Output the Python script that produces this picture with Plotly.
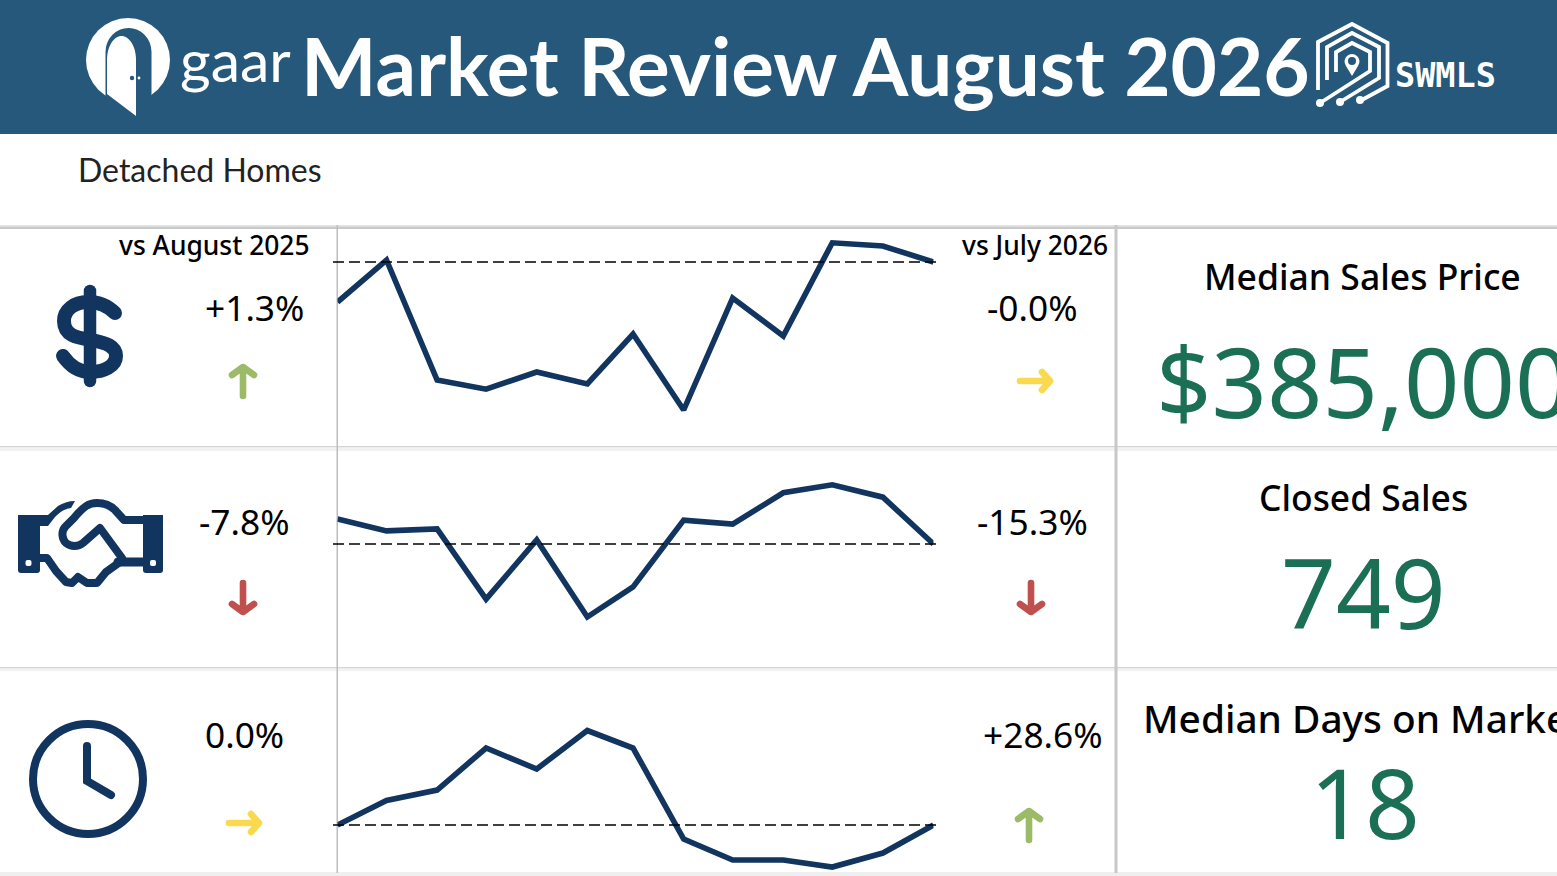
import base64
import plotly.graph_objects as go

W, H = 1557, 876

# ---- data ----
months = ["2025-08-31", "2025-09-30", "2025-10-31", "2025-11-30", "2025-12-31", "2026-01-31",
          "2026-02-28", "2026-03-31", "2026-04-30", "2026-05-31", "2026-06-30", "2026-07-31", "2026-08-31"]
median_price = [380000, 385250, 370250, 369100, 371250, 369750, 376000, 366500, 380500, 375750, 387400, 387000, 385000]
closed_sales = [812, 782, 787, 610, 759, 565, 641, 809, 799, 878, 898, 867, 749]
median_days = [18, 21.5, 23, 29, 26, 31.5, 29, 16, 13, 13, 12, 14, 18]

title_text = "Market Review August 2026"
subtitle_text = "Detached Homes"
metric_names = ["Median Sales Price", "Closed Sales", "Median Days on Market"]
metric_values = ["$385,000", "749", "18"]
yoy_labels = ["+1.3%", "-7.8%", "0.0%"]
mom_labels = ["-0.0%", "-15.3%", "+28.6%"]

NAVY = "#12355f"
GREEN_TXT = "#1b6f54"
HEADER = "#25587a"
FONT = "Noto Sans"


def px(x):
    return x / W


def py(y):
    return 1 - y / H


fig = go.Figure()

rows = [
    (median_price, 230, 445, 362125, 389000, "Median Sales Price"),
    (closed_sales, 452, 665, 444, 980.8, "Closed Sales"),
    (median_days, 672, 872, 11.29, 39.86, "Median Days on Market"),
]
shapes = []
layout_axes = {}
for i, (vals, top, bot, lo, hi, name) in enumerate(rows, start=1):
    fig.add_trace(go.Scatter(x=months, y=vals, name=name, mode="lines", xaxis=f"x{i}", yaxis=f"y{i}",
                             cliponaxis=False, hoverinfo="x+y",
                             line=dict(color=NAVY, width=5.6, shape="linear"), showlegend=False))
    layout_axes[f"xaxis{i}"] = dict(domain=[px(337.5), px(933.5)], range=[months[0], months[-1]], type="date",
                                    visible=False, anchor=f"y{i}", fixedrange=True)
    layout_axes[f"yaxis{i}"] = dict(domain=[py(bot), py(top)], range=[lo, hi], visible=False,
                                    anchor=f"x{i}", fixedrange=True)
    shapes.append(dict(type="line", xref="paper", yref=f"y{i}", x0=px(333), x1=px(936), y0=vals[-1], y1=vals[-1],
                       line=dict(color="#000000", width=1.5, dash="11px,5px"), layer="above"))


def rect(x0, y0, x1, y1, color, layer="below"):
    shapes.append(dict(type="rect", xref="paper", yref="paper", x0=px(x0), x1=px(x1), y0=py(y0), y1=py(y1),
                       fillcolor=color, line=dict(width=0), layer=layer))


rect(0, 0, W, 134, HEADER)
# horizontal separators
rect(0, 225, W, 226.5, "#e4e4e4")
rect(0, 226.5, W, 229, "#c9c9c9")
rect(0, 446, W, 447.5, "#d4d4d4")
rect(0, 447.5, W, 451, "#f2f2f2")
rect(0, 667, W, 668.5, "#d4d4d4")
rect(0, 668.5, W, 671, "#f2f2f2")
rect(0, 872, W, 876, "#efefef")
# vertical separators
rect(336.5, 225, 338, 873, "#bdbdbd")
rect(1114.5, 225, 1117.5, 873, "#c8c8c8")

annotations = []


def text(x, y, s, size, color="#000000", family=FONT, weight=400, anchor="center"):
    annotations.append(dict(x=px(x), y=py(y), xref="paper", yref="paper", text=s, showarrow=False,
                            xanchor=anchor, yanchor="middle",
                            font=dict(family=family, size=size, color=color, weight=weight)))


text(805, 65, title_text, 80, "#ffffff", "Lato", 700)
text(235.5, 59, "gaar", 59, "#ffffff", "Lato", 400)
text(1445, 75, "SWMLS", 33.5, "#ffffff", "DejaVu Sans Mono", 700)
text(76, 169, subtitle_text, 32, "#222222", "Lato", 400, "left")
text(215, 245, "vs August 2025", 26.4, weight=500)
text(1034.5, 245, "vs July 2026", 26.4, weight=500)

text(254, 307, yoy_labels[0], 35.3)
text(1032, 307, mom_labels[0], 35.3)
text(244, 521, yoy_labels[1], 35.3)
text(1032, 521, mom_labels[1], 35.3)
text(244, 734, yoy_labels[2], 35.3)
text(1042.5, 734, mom_labels[2], 35.3)

text(1362.5, 276, metric_names[0], 35.5, weight=500)
text(1363.5, 497, metric_names[1], 35.4, weight=500)
text(1363, 718, metric_names[2], 38.8, weight=500)
text(1363, 380, metric_values[0], 97, GREEN_TXT)
text(1363.5, 591, metric_values[1], 96, GREEN_TXT)
text(1364.5, 801, metric_values[2], 96, GREEN_TXT)

images = []


def icon(x0, y0, x1, y1, body):
    """Decoration placed by pixel box; body uses canvas pixel coordinates."""
    svg = (f'<svg xmlns="http://www.w3.org/2000/svg" width="{x1-x0}" height="{y1-y0}" '
           f'viewBox="{x0} {y0} {x1-x0} {y1-y0}">{body}</svg>')
    src = "data:image/svg+xml;base64," + base64.b64encode(svg.encode()).decode()
    images.append(dict(source=src, xref="paper", yref="paper", x=px(x0), y=py(y0), sizex=px(x1 - x0),
                       sizey=(y1 - y0) / H, xanchor="left", yanchor="top", sizing="stretch", layer="above"))


def arrow(kind, cx, cy, color):
    s = f'fill="none" stroke="{color}" stroke-width="6.6" stroke-linecap="round" stroke-linejoin="round"'
    if kind == "up":
        d = f"M{cx},{cy+15} V{cy-14} M{cx-11},{cy-6} L{cx},{cy-14} L{cx+11},{cy-6}"
    elif kind == "down":
        d = f"M{cx},{cy-15} V{cy+14} M{cx-11},{cy+6} L{cx},{cy+14} L{cx+11},{cy+6}"
    else:
        d = f"M{cx-15},{cy} H{cx+15} M{cx+7},{cy-9} L{cx+15},{cy} L{cx+7},{cy+9}"
    icon(cx - 25, cy - 25, cx + 25, cy + 25, f'<path d="{d}" {s}/>')


GREEN, YELLOW, RED = "#9bbb69", "#f9d94e", "#c0504d"
arrow("up", 243, 381, GREEN)
arrow("right", 1035, 381, YELLOW)
arrow("down", 243, 598, RED)
arrow("down", 1031, 598, RED)
arrow("right", 244, 823, YELLOW)
arrow("up", 1029, 825, GREEN)

# gaar door logo
icon(80, 10, 180, 125, f'''
<circle cx="128" cy="60" r="42" fill="#fff"/>
<path d="M105.5,102 V52 A23,24 0 0 1 151.5,52 V102 Z" fill="{HEADER}"/>
<path d="M107,94 V60 C107,46 114,36 121.5,36 C129,36 136,46 136,60 V116 Z" fill="#fff"/>
<circle cx="132" cy="78" r="2.2" fill="{HEADER}"/><circle cx="139" cy="78" r="1.4" fill="#fff"/>''')

# SWMLS hexagon logo
icon(1310, 15, 1395, 112, '''
<g fill="none" stroke="#fff" stroke-width="3.8" stroke-linejoin="miter">
<path d="M1318,90 V42 L1352,24 L1387.5,43 V86 L1360,101"/>
<path d="M1327,80 V47 L1352,33 L1379,47 V78 L1340,102"/>
<path d="M1336,72 V52 L1352,43 L1370,52 V71 L1320,103"/>
</g>
<circle cx="1320" cy="103" r="4" fill="#fff"/><circle cx="1340" cy="102" r="4" fill="#fff"/><circle cx="1360" cy="100" r="4" fill="#fff"/>
<path fill-rule="evenodd" fill="#fff" d="M1352,76 L1346,66 A7.5,7.5 0 1 1 1358,66 Z M1352,57 A4,4 0 1 0 1352,65 A4,4 0 1 0 1352,57 Z"/>''')

# dollar icon
icon(45, 275, 135, 395, f'''
<g fill="none" stroke="{NAVY}" stroke-linecap="round" stroke-linejoin="round">
<path stroke-width="14" d="M115,313 C108,306 98,302 88,302 C74,302 64,310 64,321 C64,337 80,338 92,340 C106,343 116,346 116,356 C116,366 104,372 90,372 C78,372 70,366 63,356"/>
<path stroke-width="12.5" d="M90,291 V381"/></g>''')

# handshake icon
icon(10, 495, 172, 595, f'''
<g fill="{NAVY}">
<path d="M18,515 H40 V570 Q40,573 37,573 H21 Q18,573 18,570 Z"/>
<path d="M143,515 H163 V570 Q163,573 160,573 H146 Q143,573 143,570 Z"/>
<path d="M38,515 H48 L58,506 C63,503 68,501 75,501 L71,508 C64,509 60,512 55,517 L48,526 H38 Z"/>
</g>
<rect x="25.5" y="560" width="6" height="6" rx="2" fill="#fff"/><rect x="150" y="560" width="6" height="6" rx="2" fill="#fff"/>
<g fill="none" stroke="{NAVY}" stroke-width="8" stroke-linejoin="round" stroke-linecap="round">
<path d="M145,520 H124 L115,510 C110,505 103,503 97,503 C89,503 84,506 74,518 L65,527 C61,532 62,539 66,543 C71,547 78,547 83,543 L100,528 L122,558"/>
<path d="M38,558 H47 L56,571 L66,582 L72,583 L78,577 L87,583 L97,583 L106,572 L120,562 H145"/>
<path stroke-width="9" d="M118,562 H145"/>
</g>''')

# clock icon
icon(20, 710, 157, 848, f'''
<circle cx="88" cy="779" r="55" fill="none" stroke="{NAVY}" stroke-width="8"/>
<path d="M87,746 V781 L111,795" fill="none" stroke="{NAVY}" stroke-width="8" stroke-linecap="round" stroke-linejoin="miter"/>''')

fig.update_layout(width=W, height=H, margin=dict(l=0, r=0, t=0, b=0), paper_bgcolor="#ffffff", plot_bgcolor="rgba(0,0,0,0)",
                  shapes=shapes, annotations=annotations, images=images, showlegend=False, **layout_axes)

fig.write_html("out.html", config=dict(displayModeBar=False),
               post_script="document.body.style.margin='0';document.body.style.overflow='hidden';")
